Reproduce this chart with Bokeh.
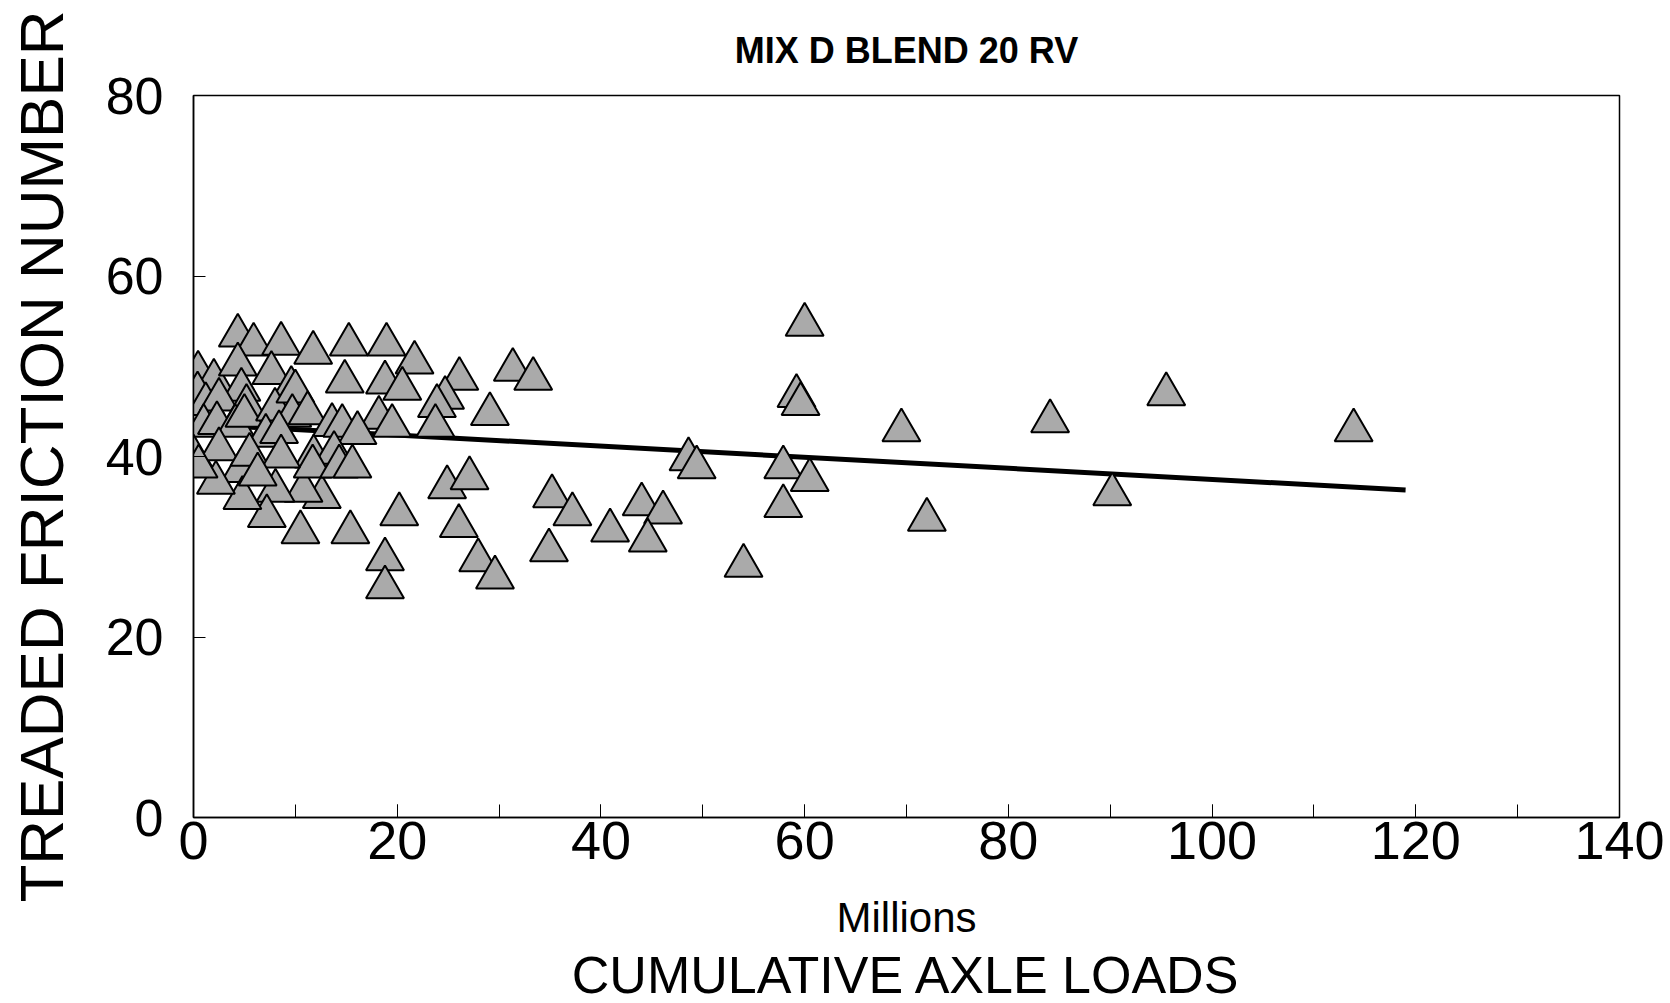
from bokeh.plotting import figure
from bokeh.models import Range1d, SingleIntervalTicker, Title
from bokeh.embed import file_html
from bokeh.resources import INLINE

title_text = "MIX D BLEND 20 RV"
x_title = "CUMULATIVE AXLE LOADS"
x_unit = "Millions"
y_title = "TREADED FRICTION NUMBER"

# cumulative axle loads (millions) and treaded friction number
axle_loads = [
    4.35, 5.9, 8.6, 11.75, 15.25, 18.95, 21.7, 26.1, 0.45, 2.0,
    4.35, 7.65, 14.85, 18.8, 20.5, 4.7, 9.6, 24.7, 29.1, 23.9,
    23.75, 18.2, 19.5, 0.4, 1.2, 2.5, 5.2, 1.0, 2.3, 4.1,
    5.0, 8.0, 10.0, 9.7, 11.2, 7.1, 8.4, 13.6, 14.6, 16.1,
    11.8, 13.8, 0.0, 2.5, 31.35, 33.35, 24.9, 27.1, 26.05, 27.95,
    29.6, 20.2, 18.8, 18.8, 15.4, 10.5, 12.6, 10.8, 8.05, 7.2,
    4.6, 4.8, 2.2, 0.5, 11.7, 14.3, 15.6, 5.5, 8.6, 6.3,
    35.2, 37.2, 34.9, 40.9, 44.0, 46.1, 44.6, 54.0, 48.6, 49.4,
    57.9, 60.5, 57.9, 60.0, 59.2, 59.6, 69.5, 72.0, 84.1, 90.2,
    95.5, 113.9,
]
friction = [
    53.4, 52.4, 52.5, 51.5, 52.4, 52.4, 50.4, 48.6, 49.3, 48.4,
    50.2, 49.25, 48.3, 48.2, 47.5, 47.4, 47.6, 46.5, 44.7, 45.6,
    43.4, 44.3, 43.4, 47.0, 45.8, 46.3, 45.6, 43.4, 43.7, 43.4,
    44.5, 45.2, 47.2, 44.5, 44.8, 42.3, 42.7, 43.5, 43.4, 42.6,
    40.0, 40.4, 40.0, 40.8, 49.6, 48.6, 36.6, 37.6, 32.3, 28.5,
    26.6, 33.6, 28.6, 25.5, 31.6, 31.6, 35.5, 36.2, 36.2, 33.4,
    38.4, 35.4, 37.1, 38.9, 38.9, 38.9, 38.9, 40.2, 40.0, 38.0,
    35.6, 33.6, 29.6, 31.8, 34.7, 33.8, 30.7, 27.9, 39.7, 38.8,
    38.8, 37.4, 34.5, 54.6, 46.7, 45.8, 42.9, 33.0, 43.9, 35.8,
    46.9, 42.9,
]
# fitted trend line end points
fit_x = [0, 119]
fit_y = [43.6, 36.3]

FONT = "Liberation Sans"

p = figure(
    width=1670, height=1003,
    min_border_left=193, min_border_right=51, min_border_top=95, min_border_bottom=183,
    x_range=Range1d(0, 140), y_range=Range1d(0, 80),
    output_backend="svg", toolbar_location=None, tools="",
)
p.background_fill_color = "white"
p.border_fill_color = "white"
p.outline_line_color = "black"
p.outline_line_width = 1.5
p.xgrid.visible = False
p.ygrid.visible = False

p.title = Title(text=title_text, align="center", offset=-90, text_font=FONT,
                text_font_style="bold", text_font_size="36px", standoff=50,
                text_color="black")

p.xaxis.ticker = SingleIntervalTicker(interval=20, num_minor_ticks=2)
p.yaxis.ticker = SingleIntervalTicker(interval=20, num_minor_ticks=0)
for ax in (p.xaxis, p.yaxis):
    ax.axis_line_color = "black"
    ax.axis_line_width = 1.5
    ax.major_tick_line_color = "black"
    ax.minor_tick_line_color = "black"
    ax.major_tick_out = 0
    ax.minor_tick_out = 0
    ax.major_label_text_color = "black"
    ax.major_label_text_font = FONT
    ax.axis_label_text_font = FONT
    ax.axis_label_text_font_style = "normal"
    ax.axis_label_text_color = "black"
p.xaxis.major_tick_in = 13
p.xaxis.minor_tick_in = 13
p.yaxis.major_tick_in = 12
p.yaxis.minor_tick_in = 0
p.xaxis.major_label_text_font_size = "54px"
p.xaxis.major_label_standoff = 4
p.yaxis.major_label_text_font_size = "52px"
p.yaxis.major_label_standoff = 30

p.xaxis.axis_label = x_unit
p.xaxis.axis_label_text_font_size = "42px"
p.xaxis.axis_label_standoff = 32
p.yaxis.axis_label = y_title
p.yaxis.axis_label_text_font_size = "62px"
p.yaxis.axis_label_standoff = 27

p.add_layout(Title(text=x_title, align="center", offset=-16, text_font=FONT,
                   text_font_style="normal", text_font_size="52px", standoff=0,
                   text_color="black"), "below")

p.line(fit_x, fit_y, line_color="black", line_width=5)
p.scatter(axle_loads, friction, marker="triangle", size=38,
          fill_color="#aaaaaa", line_color="black", line_width=2)

open("out.html", "w").write(file_html(p, INLINE))
